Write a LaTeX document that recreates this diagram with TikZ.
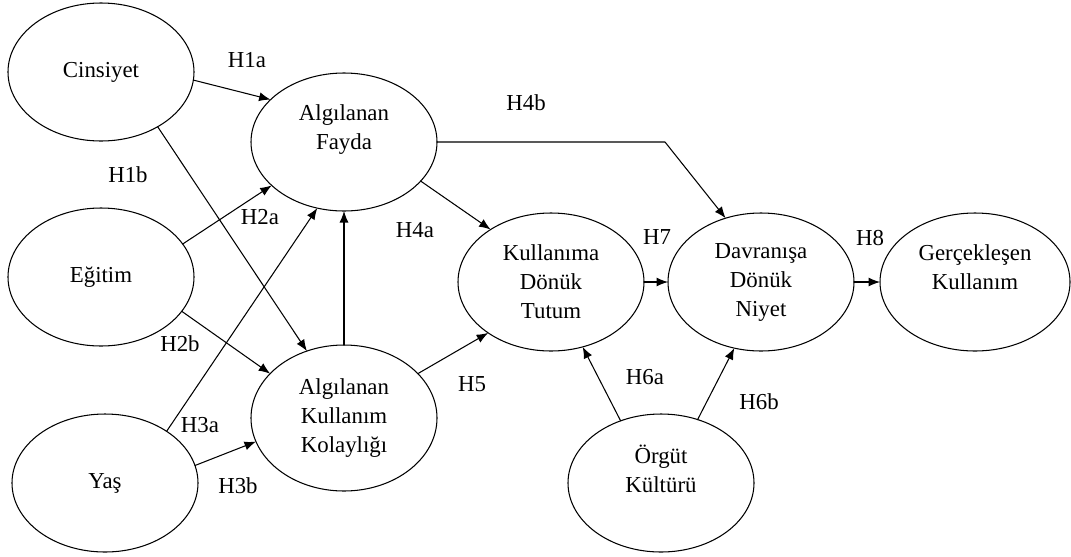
\documentclass[tikz,border=0pt]{standalone}
\usepackage{fontspec}
\setmainfont{Liberation Serif}
\usetikzlibrary{shapes.geometric,arrows.meta}

\tikzset{
  ell/.style={draw,ellipse,minimum width=37.2mm,minimum height=27.6mm,
    inner sep=1pt,outer sep=0pt,align=center,font=\fontsize{13}{16.5}\selectfont},
  hyp/.style={inner sep=0pt,font=\fontsize{13}{16.5}\selectfont},
  arr/.style={-{Latex[length=2.3mm,width=1.8mm]}}
}

\begin{document}
\begin{tikzpicture}[x=0.2mm,y=-0.2mm,line width=0.6pt,line cap=round,line join=round]
\useasboundingbox (0,0) rectangle (1071,556);
% constructs
\node[ell] (cin) at (101,72) {Cinsiyet};
\node[ell] (egi) at (101,277) {Eğitim};
\node[ell] (yas) at (105,483) {Yaş};
\node[ell] (af) at (344,142) {Algılanan\\Fayda\\\mbox{}};
\node[ell,minimum height=29.2mm] (akk) at (344,418) {Algılanan\\Kullanım\\Kolaylığı};
\node[ell] (kdt) at (551,282) {Kullanıma\\Dönük\\Tutum};
\node[ell] (ddn) at (761,282) {Davranışa\\Dönük\\Niyet};
\node[ell,minimum width=38mm] (gk) at (975,282) {Gerçekleşen\\Kullanım\\\mbox{}};
\node[ell] (ok) at (661,483) {Örgüt\\Kültürü\\\mbox{}};
\coordinate (h4bend) at (665,142);
% paths
\draw[arr] (cin.-5) -- (af.150);
\draw[arr] (cin.-44) -- (akk.119);
\draw[arr] (egi.22) -- (af.211);
\draw[arr] (egi.-23) -- (akk.149);
\draw[arr] (yas.40) -- (af.248);
\draw[arr] (yas.11) -- (akk.195);
\draw[arr] (akk.north) -- (af.south);
\draw[arr] (af.-27) -- (kdt.139);
\draw[arr] (af.east) -- (h4bend) -- (ddn.119);
\draw[arr] (akk.31) -- (kdt.219);
\draw[arr] (kdt.east) -- (ddn.west);
\draw[arr] (ddn.east) -- (gk.west);
\draw[arr] (ok.123) -- (kdt.-64);
\draw[arr] (ok.60) -- (ddn.248);
% hypotheses
\node[hyp] (h1a) at (247,60) {H1a};
\node[hyp] (h1b) at (128,175) {H1b};
\node[hyp] (h2a) at (260,217) {H2a};
\node[hyp] (h2b) at (180,344) {H2b};
\node[hyp] (h3a) at (200,425) {H3a};
\node[hyp] (h3b) at (238,486) {H3b};
\node[hyp] (h4a) at (415,230) {H4a};
\node[hyp] (h4b) at (526,103) {H4b};
\node[hyp] (h5) at (472,384) {H5};
\node[hyp] (h6a) at (645,377) {H6a};
\node[hyp] (h6b) at (759,402) {H6b};
\node[hyp] (h7) at (657,237) {H7};
\node[hyp] (h8) at (870,238) {H8};
\end{tikzpicture}
\end{document}
